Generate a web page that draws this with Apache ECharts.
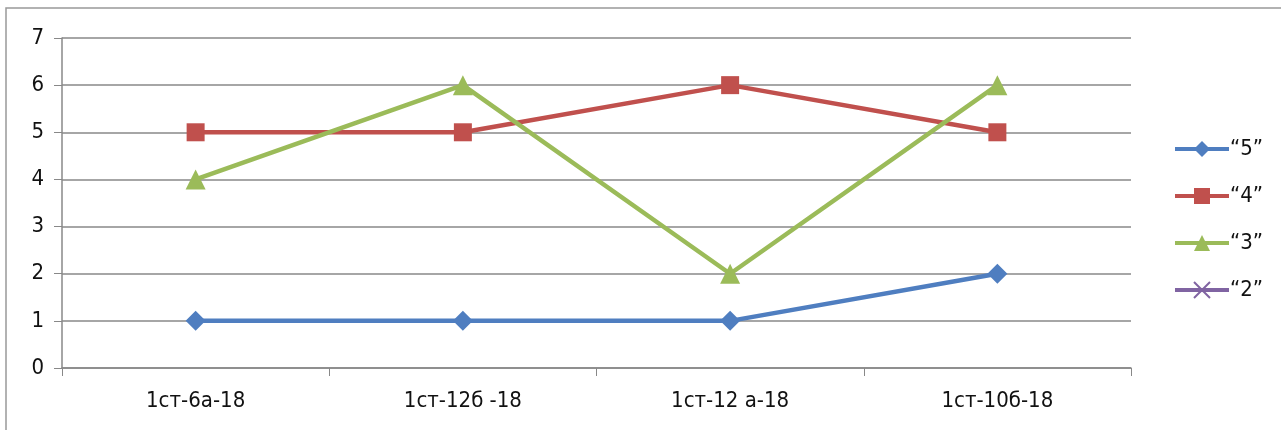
<!DOCTYPE html>
<html>
<head>
<meta charset="utf-8">
<script src="https://cdn.jsdelivr.net/npm/echarts@6/dist/echarts.min.js"></script>
<style>html,body{margin:0;padding:0;background:#fff;}#c{width:1281px;height:430px;}</style>
</head>
<body>
<div id="c"></div>
<script>
const categories = ['1ст-6а-18', '1ст-12б -18', '1ст-12 а-18', '1ст-10б-18'];
const seriesNames = ['“5”', '“4”', '“3”', '“2”'];
const s5 = [1, 1, 1, 2];
const s4 = [5, 5, 6, 5];
const s3 = [4, 6, 2, 6];
const s2 = [null, null, null, null];
const yTicks = [0, 1, 2, 3, 4, 5, 6, 7];

const colors = ['#4F7EC0', '#C0504D', '#9BBB59', '#8064A2'];
const symbols = ['diamond', 'rect', 'triangle', 'path://M0,0L2,2M2,0L0,2'];
const sizes = [20, 18, 20, 16];
const values = [s5, s4, s3, s2];
const font = '"Liberation Sans Narrow", "DejaVu Sans Condensed", sans-serif';

const chart = echarts.init(document.getElementById('c'));
chart.setOption({
  animation: false,
  backgroundColor: '#fff',
  grid: { left: 62, right: 150, top: 38, bottom: 62 },
  graphic: [{
    type: 'polyline',
    shape: { points: [[6, 430], [6, 8], [1281, 8]] },
    style: { stroke: '#999', lineWidth: 1.5, fill: null }
  }],
  legend: {
    orient: 'vertical',
    left: 1168,
    top: 133,
    itemGap: 25,
    itemWidth: 54,
    itemHeight: 20,
    lineStyle: { width: 4 },
    textStyle: { fontFamily: font, fontSize: 22, color: '#111', padding: [0, 0, 0, -4] },
    data: seriesNames
  },
  xAxis: {
    type: 'category',
    data: categories,
    boundaryGap: true,
    axisLine: { lineStyle: { color: '#888', width: 1.5 } },
    axisTick: { show: true, inside: false, length: 8, lineStyle: { color: '#888' } },
    axisLabel: { fontFamily: font, fontSize: 22, color: '#111', margin: 22 }
  },
  yAxis: {
    type: 'value',
    min: yTicks[0],
    max: yTicks[yTicks.length - 1],
    interval: 1,
    axisLine: { show: true, lineStyle: { color: '#888', width: 1.5 } },
    axisTick: { show: true, length: 8, lineStyle: { color: '#888' } },
    splitLine: { lineStyle: { color: '#888', width: 1.5 } },
    axisLabel: { fontFamily: font, fontSize: 22, color: '#111', margin: 18 }
  },
  series: seriesNames.map((n, i) => ({
    name: n,
    type: 'line',
    data: values[i],
    symbol: symbols[i],
    symbolSize: sizes[i],
    showAllSymbol: true,
    color: colors[i],
    lineStyle: { color: colors[i], width: 4.5 },
    itemStyle: { color: colors[i], borderColor: colors[i], borderWidth: i === 3 ? 2 : 0 }
  }))
});
</script>
</body>
</html>
